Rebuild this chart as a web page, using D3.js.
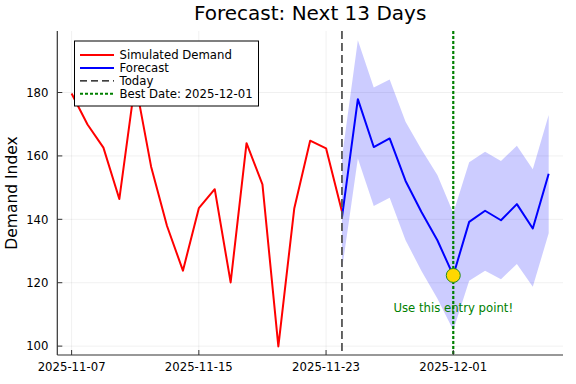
<!DOCTYPE html>
<html>
<head>
<meta charset="utf-8">
<script src="https://cdn.jsdelivr.net/npm/d3@7"></script>
<style>
  html, body { margin: 0; padding: 0; background: #fff; }
  svg { display: block; font-family: "DejaVu Sans", sans-serif; }
</style>
</head>
<body>
<svg id="chart" width="576" height="384"></svg>
<script>
// ---- data ----
const histDates = ["2025-11-07","2025-11-08","2025-11-09","2025-11-10","2025-11-11","2025-11-12",
  "2025-11-13","2025-11-14","2025-11-15","2025-11-16","2025-11-17","2025-11-18","2025-11-19",
  "2025-11-20","2025-11-21","2025-11-22","2025-11-23","2025-11-24"];
const histValues = [179.7, 169.9, 162.6, 146.4, 183.5, 156.6, 137.9, 123.8, 143.5, 149.5,
  120.1, 164.0, 151.0, 99.9, 143.4, 164.8, 162.4, 142.5];

const fcDates = ["2025-11-24","2025-11-25","2025-11-26","2025-11-27","2025-11-28","2025-11-29",
  "2025-11-30","2025-12-01","2025-12-02","2025-12-03","2025-12-04","2025-12-05","2025-12-06","2025-12-07"];
const fcValues = [140.6, 177.9, 162.8, 165.5, 152.1, 142.3, 133.4, 122.3, 139.2, 142.7, 139.7, 144.8, 137.1, 154.4];
const fcUpper  = [159.5, 196.5, 181.6, 184.1, 170.8, 162.0, 154.0, 142.0, 158.0, 161.3, 158.4, 163.2, 155.8, 172.9];
const fcLower  = [124.0, 159.2, 144.2, 146.8, 133.4, 123.7, 115.0, 105.0, 120.6, 123.8, 121.1, 125.9, 118.7, 135.6];

const todayDate = "2025-11-24";
const bestDate = "2025-12-01";
const bestValue = 122.3;

const xTickLabels = ["2025-11-07", "2025-11-15", "2025-11-23", "2025-12-01"];
const yTickValues = [100, 120, 140, 160, 180];

const titleText = "Forecast: Next 13 Days";
const yLabelText = "Demand Index";
const annotationText = "Use this entry point!";
const legendLabels = ["Simulated Demand", "Forecast", "Today", "Best Date: 2025-12-01"];

// ---- layout ----
const parse = d3.utcParse("%Y-%m-%d");
const fmt = d3.utcFormat("%Y-%m-%d");
const svg = d3.select("#chart");
const L = 57.3, R = 563, T = 31, B = 355;
const DAY = 86400000;

const x = d3.scaleUtc()
  .domain([new Date(parse(histDates[0]).getTime() - 0.9 * DAY),
           new Date(parse(fcDates[fcDates.length - 1]).getTime() + 0.9 * DAY)])
  .range([L, R]);
const y = d3.scaleLinear().domain([97.2, 199.4]).range([B, T]);

// grid
const grid = svg.append("g");
xTickLabels.forEach(d => {
  grid.append("line").attr("x1", x(parse(d))).attr("x2", x(parse(d)))
    .attr("y1", T).attr("y2", B).attr("stroke", "#000").attr("stroke-opacity", 0.1).attr("stroke-width", 0.6);
});
yTickValues.forEach(v => {
  grid.append("line").attr("x1", L).attr("x2", R).attr("y1", y(v)).attr("y2", y(v))
    .attr("stroke", "#000").attr("stroke-opacity", 0.1).attr("stroke-width", 0.6);
});

// band
const fc = fcDates.map((d, i) => ({ d: parse(d), v: fcValues[i], lo: fcLower[i], hi: fcUpper[i] }));
const hist = histDates.map((d, i) => ({ d: parse(d), v: histValues[i] }));

svg.append("path").datum(fc)
  .attr("d", d3.area().x(p => x(p.d)).y0(p => y(p.lo)).y1(p => y(p.hi)))
  .attr("fill", "#0000ff").attr("fill-opacity", 0.2);

const line = d3.line().x(p => x(p.d)).y(p => y(p.v));
svg.append("path").datum(hist).attr("d", line)
  .attr("fill", "none").attr("stroke", "#ff0000").attr("stroke-width", 2).attr("stroke-linejoin", "round");
svg.append("path").datum(fc).attr("d", line)
  .attr("fill", "none").attr("stroke", "#0000ff").attr("stroke-width", 2).attr("stroke-linejoin", "round");

// today line
svg.append("line").attr("x1", x(parse(todayDate))).attr("x2", x(parse(todayDate)))
  .attr("y1", T).attr("y2", B).attr("stroke", "#555").attr("stroke-width", 1.8)
  .attr("stroke-dasharray", "8,4");
// best date line
svg.append("line").attr("x1", x(parse(bestDate))).attr("x2", x(parse(bestDate)))
  .attr("y1", T).attr("y2", B).attr("stroke", "#008000").attr("stroke-width", 2.2)
  .attr("stroke-dasharray", "3,2");

// annotation
svg.append("text").attr("x", x(parse(bestDate))).attr("y", 311.5)
  .attr("text-anchor", "middle").attr("font-size", 11.7).attr("fill", "#008000")
  .text(annotationText);

// marker
svg.append("circle").attr("cx", x(parse(bestDate))).attr("cy", y(bestValue)).attr("r", 7)
  .attr("fill", "#ffd700").attr("stroke", "#228b22").attr("stroke-width", 1);

// axes
const axisColor = "#333";
svg.append("line").attr("x1", L).attr("x2", R).attr("y1", B).attr("y2", B)
  .attr("stroke", axisColor).attr("stroke-width", 1.2);
svg.append("line").attr("x1", L).attr("x2", L).attr("y1", T).attr("y2", B)
  .attr("stroke", axisColor).attr("stroke-width", 1.2);

xTickLabels.forEach(d => {
  const xp = x(parse(d));
  svg.append("line").attr("x1", xp).attr("x2", xp).attr("y1", B).attr("y2", B - 5)
    .attr("stroke", axisColor).attr("stroke-width", 1);
  svg.append("text").attr("x", xp).attr("y", 370.5).attr("text-anchor", "middle")
    .attr("font-size", 11.7).attr("fill", "#000").text(d);
});
yTickValues.forEach(v => {
  const yp = y(v);
  svg.append("line").attr("x1", L).attr("x2", L + 5).attr("y1", yp).attr("y2", yp)
    .attr("stroke", axisColor).attr("stroke-width", 1);
  svg.append("text").attr("x", 48.5).attr("y", yp + 4.2).attr("text-anchor", "end")
    .attr("font-size", 11.7).attr("fill", "#000").text(d3.format("d")(v));
});

// y label
svg.append("text").attr("transform", `translate(17,${(T + B) / 2}) rotate(-90)`)
  .attr("text-anchor", "middle").attr("font-size", 15.5).attr("fill", "#000").text(yLabelText);

// title
svg.append("text").attr("x", (L + R) / 2).attr("y", 19.5).attr("text-anchor", "middle")
  .attr("font-size", 20).attr("fill", "#000").text(titleText);

// legend
const lg = svg.append("g");
lg.append("rect").attr("x", 74.5).attr("y", 41).attr("width", 184).attr("height", 65)
  .attr("fill", "#fff").attr("stroke", "#000").attr("stroke-width", 1);
const legendStyles = [
  { color: "#ff0000", dash: null, w: 2 },
  { color: "#0000ff", dash: null, w: 2 },
  { color: "#000", dash: "7,4", w: 1.3 },
  { color: "#008000", dash: "3,2", w: 2 }
];
legendLabels.forEach((t, i) => {
  const cy = 55 + i * 12.9;
  lg.append("line").attr("x1", 80).attr("x2", 114).attr("y1", cy).attr("y2", cy)
    .attr("stroke", legendStyles[i].color).attr("stroke-width", legendStyles[i].w)
    .attr("stroke-dasharray", legendStyles[i].dash);
  lg.append("text").attr("x", 119.5).attr("y", cy + 4.2).attr("font-size", 11.7)
    .attr("fill", "#000").text(t);
});
</script>
</body>
</html>
